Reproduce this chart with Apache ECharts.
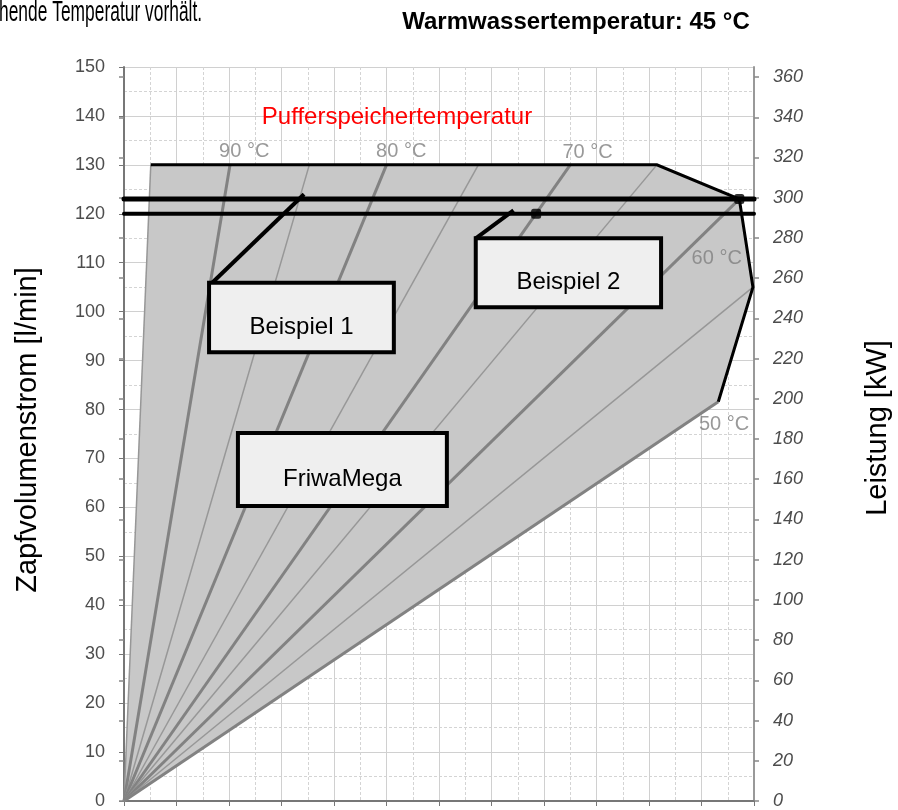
<!DOCTYPE html>
<html>
<head>
<meta charset="utf-8">
<script src="https://cdn.jsdelivr.net/npm/echarts@6/dist/echarts.min.js"></script>
<style>
html,body{margin:0;padding:0;background:#fff;}
#chart{width:898px;height:810px;}
</style>
</head>
<body>
<div id="chart"></div>
<script>
// ---- data ----
const leftTicks = [0,10,20,30,40,50,60,70,80,90,100,110,120,130,140,150];
const rightTicks = [0,20,40,60,80,100,120,140,160,180,200,220,240,260,280,300,320,340,360];
const kwMax = 365; // Leistung at 150 l/min

// fan of temperature lines from origin (x in chart units, y in l/min)
const fanTemps = [95, 90, 85, 80, 75, 70, 65, 60, 55, 50];
const fanEndX  = [0.51, 2.02, 3.53, 5.00, 6.75, 8.50, 10.15, 11.72, 11.98, 11.32];
const fanEndY  = [130, 130, 130, 130, 130, 130, 130, 123, 105, 81.6];

// FriwaMega area
const areaX = [0, 0.51, 10.15, 11.72, 11.98, 11.32];
const areaY = [0, 130, 130, 123, 105, 81.6];
const outlineX = [0.51, 10.15, 11.72, 11.98, 11.32];
const outlineY = [130, 130, 123, 105, 81.6];

// horizontal operating lines (l/min)
const levelValues = [123, 120];

// example points
const pointX = [7.85, 11.72];
const pointY = [120, 123];

// callouts
const leader1 = [[1.66, 105.7], [3.43, 124.0]];
const leader2 = [[6.70, 115.0], [7.42, 120.7]];
const boxNames = ['Beispiel 1', 'Beispiel 2', 'FriwaMega'];
const boxX0 = [1.62, 6.70, 2.17];
const boxX1 = [5.14, 10.23, 6.15];
const boxYTop = [105.9, 115.0, 75.2];
const boxYBot = [91.7, 100.9, 60.3];

// temperature labels
const tempLabelNames = ['90 °C', '80 °C', '70 °C', '60 °C', '50 °C'];
const tempLabelX = [2.29, 5.28, 8.83, 11.29, 11.43];
const tempLabelY = [132.7, 132.7, 132.5, 110.8, 76.9];

// ---- chart ----
const FONT = '"Liberation Sans", Arial, sans-serif';
const chart = echarts.init(document.getElementById('chart'), null, {renderer: 'canvas'});

const series = [];

series.push({
  type: 'custom', z: 1, silent: true,
  data: [[0, 0]],
  renderItem: function (params, api) {
    const pts = areaX.map((x, i) => api.coord([x, areaY[i]]));
    return {type: 'polygon', shape: {points: pts}, style: {fill: '#c8c8c8'}};
  }
});

fanTemps.forEach((t, i) => {
  const bold = t % 10 === 0;
  series.push({
    type: 'line', z: 2, silent: true, symbol: 'none',
    data: [[0, 0], [fanEndX[i], fanEndY[i]]],
    lineStyle: {color: bold ? '#828282' : '#979797', width: bold ? 3 : 1.5}
  });
});

series.push({
  type: 'line', z: 3, silent: true, symbol: 'none',
  data: outlineX.map((x, i) => [x, outlineY[i]]),
  lineStyle: {color: '#000', width: 3, join: 'miter'}
});

levelValues.forEach((v, i) => {
  series.push({
    type: 'line', z: 4, silent: true, symbol: 'none',
    data: [[0, v], [12, v]],
    lineStyle: {color: '#000', width: i === 0 ? 5 : 4, cap: 'round'}
  });
});

series.push({
  type: 'line', z: 5, silent: true, symbol: 'none',
  data: leader1, lineStyle: {color: '#000', width: 4}
});
series.push({
  type: 'line', z: 5, silent: true, symbol: 'none',
  data: leader2, lineStyle: {color: '#000', width: 4}
});

series.push({
  type: 'scatter', z: 5, silent: true,
  symbol: 'roundRect', symbolSize: 10,
  itemStyle: {color: '#000'},
  data: pointX.map((x, i) => [x, pointY[i]])
});

series.push({
  type: 'custom', z: 6, silent: true,
  data: boxNames.map((n, i) => [boxX0[i], boxYTop[i], boxX1[i], boxYBot[i]]),
  renderItem: function (params, api) {
    const p1 = api.coord([api.value(0), api.value(1)]);
    const p2 = api.coord([api.value(2), api.value(3)]);
    return {
      type: 'group',
      children: [
        {type: 'rect', shape: {x: p1[0], y: p1[1], width: p2[0] - p1[0], height: p2[1] - p1[1]},
         style: {fill: '#efefef', stroke: '#000', lineWidth: 4}},
        {type: 'text', x: (p1[0] + p2[0]) / 2, y: (p1[1] + p2[1]) / 2 + 10,
         style: {text: boxNames[params.dataIndex], fill: '#000', font: '24px ' + FONT,
                 align: 'center', verticalAlign: 'middle'}}
      ]
    };
  }
});

series.push({
  type: 'scatter', z: 6, silent: true, symbolSize: 0,
  data: tempLabelNames.map((n, i) => ({name: n, value: [tempLabelX[i], tempLabelY[i]]})),
  label: {show: true, position: 'inside', formatter: p => p.name,
          color: '#808080', fontSize: 20, fontFamily: FONT}
});

const option = {
  animation: false,
  backgroundColor: '#fff',
  grid: {left: 124, top: 67, width: 630, height: 738, containLabel: false},
  xAxis: {
    type: 'value', min: 0, max: 12, interval: 1,
    axisLine: {show: true, onZero: false, lineStyle: {color: '#777', width: 2}},
    axisTick: {show: true, length: 5, lineStyle: {color: '#777'}},
    axisLabel: {show: false},
    splitLine: {show: true, lineStyle: {color: '#d0d0d0', width: 1}},
    minorTick: {show: false, splitNumber: 2},
    minorSplitLine: {show: true, lineStyle: {color: '#d4d4d4', width: 1, type: [3, 2]}}
  },
  yAxis: [
    {
      type: 'value', min: 0, max: 150, interval: 10, position: 'left',
      axisLine: {show: true, onZero: false, lineStyle: {color: '#777', width: 2}},
      axisTick: {show: true, length: 5, lineStyle: {color: '#777'}},
      axisLabel: {show: true, color: '#4d4d4d', fontSize: 18, fontFamily: FONT, margin: 19,
                  customValues: leftTicks},
      splitLine: {show: true, lineStyle: {color: '#d0d0d0', width: 1}},
      minorTick: {show: false, splitNumber: 2},
      minorSplitLine: {show: true, lineStyle: {color: '#d4d4d4', width: 1, type: [3, 2]}}
    },
    {
      type: 'value', min: 0, max: kwMax, interval: 20, position: 'right',
      axisLine: {show: true, onZero: false, lineStyle: {color: '#999', width: 2}},
      axisTick: {show: true, length: 5, lineStyle: {color: '#888', width: 1.5}, customValues: rightTicks},
      axisLabel: {show: true, color: '#4d4d4d', fontSize: 18, fontStyle: 'italic', fontFamily: FONT,
                  margin: 19, customValues: rightTicks},
      splitLine: {show: false}
    },
    {
      type: 'value', min: 0, max: kwMax, interval: 20, position: 'right',
      axisLine: {show: false},
      axisTick: {show: true, inside: true, length: 5, lineStyle: {color: '#888', width: 1.5}, customValues: rightTicks},
      axisLabel: {show: false},
      splitLine: {show: false}
    }
  ],
  graphic: [
    {type: 'text', x: -1, y: 27, scaleX: 0.6,
     style: {text: 'hende Temperatur vorhält.', font: '29px ' + FONT, fill: '#000', verticalAlign: 'bottom'}},
    {type: 'text', x: 576, y: 22,
     style: {text: 'Warmwassertemperatur: 45 °C', font: 'bold 24px ' + FONT, fill: '#000',
             align: 'center', verticalAlign: 'middle'}},
    {type: 'text', x: 397, y: 117, z: 10,
     style: {text: 'Pufferspeichertemperatur', font: '24px ' + FONT, fill: '#ff0000',
             align: 'center', verticalAlign: 'middle'}},
    {type: 'text', x: 28, y: 430, rotation: Math.PI / 2,
     style: {text: 'Zapfvolumenstrom [l/min]', font: '29px ' + FONT, fill: '#000',
             align: 'center', verticalAlign: 'middle'}},
    {type: 'text', x: 878, y: 428, rotation: Math.PI / 2,
     style: {text: 'Leistung [kW]', font: '29px ' + FONT, fill: '#000',
             align: 'center', verticalAlign: 'middle'}}
  ],
  series: series
};
chart.setOption(option);
</script>
</body>
</html>
